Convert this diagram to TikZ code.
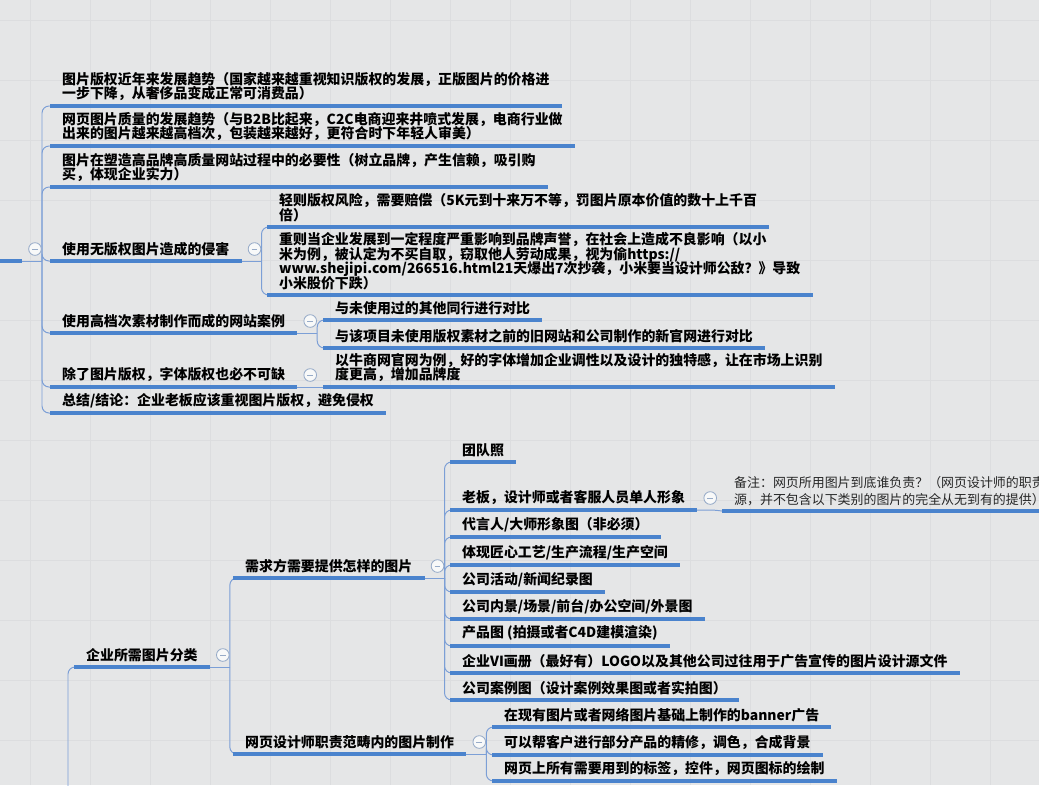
\documentclass[tikz,border=0pt]{standalone}
\usepackage{fontspec}
\newfontfamily\cjk{Noto Sans CJK SC}
\usetikzlibrary{calc, positioning}
\setlength{\lineskiplimit}{-20pt}

\definecolor{paper}{HTML}{E5E6E7}
\definecolor{gridc}{HTML}{DCDDDF}
\definecolor{lineblue}{HTML}{4A83CD}
\definecolor{connblue}{HTML}{7C9FD6}
\definecolor{foldc}{HTML}{97ABC8}

\tikzset{
  topic/.style={anchor=south west, inner xsep=8.5pt, inner ysep=3.5pt, align=left,
    font=\cjk\bfseries\fontsize{9.9}{10.3}\selectfont},
  note/.style={topic, font=\cjk\fontsize{9.2}{12}\selectfont, text=black!85},
  uline/.style={lineblue, line width=2.4pt},
  conn/.style={connblue, line width=0.7pt, rounded corners=5pt},
  fold/.style={circle, draw=foldc, fill=white!75!paper, line width=0.6pt,
    minimum size=9pt, inner sep=0pt,
    path picture={\draw[foldc, line width=0.7pt]
      ([xshift=-2pt]path picture bounding box.center) -- ([xshift=2pt]path picture bounding box.center);}},
}

\begin{document}
\begin{tikzpicture}[x=0.025cm, y=-0.025cm]
    \useasboundingbox (0,0) rectangle (1039,785);
    \fill[paper] (0,0) rectangle (1039,785);
    \foreach \gx in {30,90,...,1030} \draw[gridc, line width=0.4pt] (\gx,0) -- (\gx,785);
    \foreach \gy in {20,80,...,780} \draw[gridc, line width=0.4pt] (0,\gy) -- (1039,\gy);
    \clip (0,0) rectangle (1039,785);

    % upper branch: copyright
    \coordinate (rootL) at (0,261);
    \coordinate (root) at (22,261);
    \node[topic] (trend) at (50,106) {图片版权近年来发展趋势（国家越来越重视知识版权的发展，正版图片的价格进\\一步下降，从奢侈品变成正常可消费品）};
    \node[topic] (quality) at (50,146) {网页图片质量的发展趋势（与B2B比起来，C2C电商迎来井喷式发展，电商行业做\\出来的图片越来越高档次，包装越来越好，更符合时下年轻人审美）};
    \node[topic] (brand) at (50,187) {图片在塑造高品牌高质量网站过程中的必要性（树立品牌，产生信赖，吸引购\\买，体现企业实力）};
    \node[topic] (harm) at (50,261) {使用无版权图片造成的侵害};
    \node[topic] (harmlight) at (267,227) {轻则版权风险，需要赔偿（5K元到十来万不等，罚图片原本价值的数十上千百\\倍）};
    \node[topic] (harmheavy) at (267,295) {重则当企业发展到一定程度严重影响到品牌声誉，在社会上造成不良影响（以小\\米为例，被认定为不买自取，窃取他人劳动成果，视为偷https://\\www.shejipi.com/266516.html21天爆出7次抄袭，小米要当设计师公敌？》导致\\小米股价下跌）};
    \node[topic] (cases) at (50,333) {使用高档次素材制作而成的网站案例};
    \node[topic] (casepeer) at (323,320) {与未使用过的其他同行进行对比};
    \node[topic] (caseold) at (323,348) {与该项目未使用版权素材之前的旧网站和公司制作的新官网进行对比};
    \node[topic] (fonts) at (50,387) {除了图片版权，字体版权也必不可缺};
    \node[topic] (fontex) at (323,387) {以牛商网官网为例，好的字体增加企业调性以及设计的独特感，让在市场上识别\\度更高，增加品牌度};
    \node[topic] (summary) at (50,413) {总结/结论：企业老板应该重视图片版权，避免侵权};

    % lower branch: picture kinds
    \coordinate (gp) at (68,800);
    \node[topic] (kinds) at (74,667) {企业所需图片分类};
    \node[topic] (demand) at (233,578) {需求方需要提供怎样的图片};
    \node[topic] (team) at (450,462) {团队照};
    \node[topic] (boss) at (450,510) {老板，设计师或者客服人员单人形象};
    \node[note] (bossnote) at (722,511) {备注：网页所用图片到底谁负责？（网页设计师的职责\\源，并不包含以下类别的图片的完全从无到有的提供）};
    \node[topic] (spokes) at (450,537) {代言人/大师形象图（非必须）};
    \node[topic] (craft) at (450,565) {体现匠心工艺/生产流程/生产空间};
    \node[topic] (events) at (450,592) {公司活动/新闻纪录图};
    \node[topic] (office) at (450,619) {公司内景/场景/前台/办公空间/外景图};
    \node[topic] (product) at (450,646) {产品图 (拍摄或者C4D建模渲染)};
    \node[topic] (vibook) at (450,673) {企业VI画册（最好有）LOGO以及其他公司过往用于广告宣传的图片设计源文件};
    \node[topic] (showcase) at (450,700) {公司案例图（设计案例效果图或者实拍图）};
    \node[topic] (webmade) at (233,754) {网页设计师职责范畴内的图片制作};
    \node[topic] (banner) at (492,727) {在现有图片或者网络图片基础上制作的banner广告};
    \node[topic] (retouch) at (492,755) {可以帮客户进行部分产品的精修，调色，合成背景};
    \node[topic] (icons) at (492,781) {网页上所有需要用到的标签，控件，网页图标的绘制};

    % junctions
    \coordinate (root-j) at ($(root)+(20,0)$);
    \coordinate (harm-j) at ($(harm.south east)+(20,0)$);
    \coordinate (cases-j) at ($(cases.south east)+(20,0)$);
    \coordinate (fonts-j) at ($(fonts.south east)+(20,0)$);
    \coordinate (kinds-j) at ($(kinds.south east)+(20,0)$);
    \coordinate (demand-j) at ($(demand.south east)+(20,0)$);
    \coordinate (boss-j) at ($(boss.south east)+(20,0)$);
    \coordinate (webmade-j) at ($(webmade.south east)+(20,0)$);

    % connectors
    \draw[conn] (root) -- (root-j);
    \foreach \kid in {trend,quality,brand,harm,cases,fonts,summary}
        \draw[conn] (root-j) |- (\kid.south west);
    \draw[conn] (harm.south east) -- (harm-j);
    \foreach \kid in {harmlight,harmheavy}
        \draw[conn] (harm-j) |- (\kid.south west);
    \draw[conn] (cases.south east) -- (cases-j);
    \foreach \kid in {casepeer,caseold}
        \draw[conn] (cases-j) |- (\kid.south west);
    \draw[conn] (fonts.south east) -- (fonts-j) -- (fontex.south west);

    \draw[conn] (gp) |- (kinds.south west);
    \draw[conn] (kinds.south east) -- (kinds-j);
    \foreach \kid in {demand,webmade}
        \draw[conn] (kinds-j) |- (\kid.south west);
    \draw[conn] (demand.south east) -- (demand-j);
    \foreach \kid in {team,boss,spokes,craft,events,office,product,vibook,showcase}
        \draw[conn] (demand-j) |- (\kid.south west);
    \draw[conn] (boss.south east) -- (boss-j) -- (bossnote.south west);
    \draw[conn] (webmade.south east) -- (webmade-j);
    \foreach \kid in {banner,retouch,icons}
        \draw[conn] (webmade-j) |- (\kid.south west);

    % underlines
    \draw[uline] (rootL) -- (root);
    \foreach \t in {trend,quality,brand,harm,harmlight,harmheavy,cases,casepeer,caseold,fonts,fontex,summary,
                    kinds,demand,team,boss,bossnote,spokes,craft,events,office,product,vibook,showcase,webmade,banner,retouch,icons}
        \draw[uline] (\t.south west) -- (\t.south east);

    % fold buttons
    \node[fold] (root-f) at ($(root)+(13,-12)$) {};
    \node[fold] (harm-f) at ($(harm.south east)+(13,-12)$) {};
    \node[fold] (cases-f) at ($(cases.south east)+(13,-12)$) {};
    \node[fold] (fonts-f) at ($(fonts.south east)+(13,-12)$) {};
    \node[fold] (kinds-f) at ($(kinds.south east)+(13,-12)$) {};
    \node[fold] (demand-f) at ($(demand.south east)+(13,-12)$) {};
    \node[fold] (boss-f) at ($(boss.south east)+(13,-12)$) {};
    \node[fold] (webmade-f) at ($(webmade.south east)+(13,-12)$) {};
\end{tikzpicture}
\end{document}
